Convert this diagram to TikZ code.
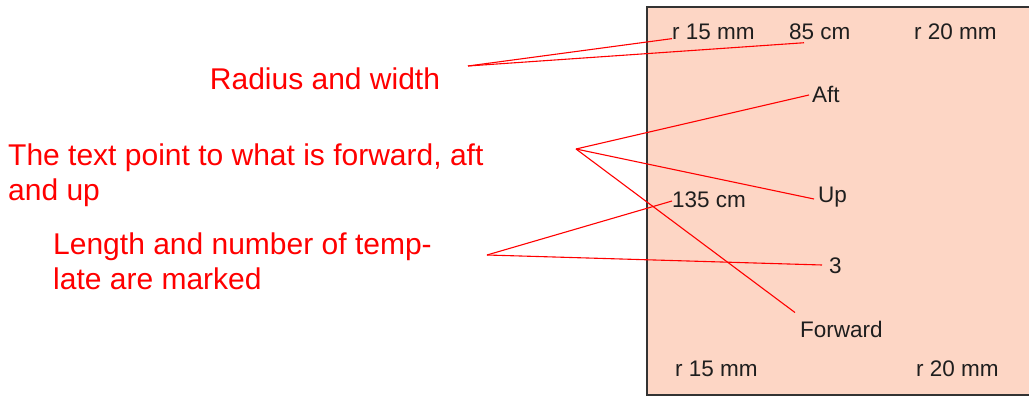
\documentclass[tikz,border=0pt]{standalone}
\usepackage{fontspec}
\setmainfont{Liberation Sans}
\usetikzlibrary{calc}
\definecolor{peach}{HTML}{FDD6C5}
\definecolor{ink}{HTML}{1E1E1E}
\definecolor{frame}{HTML}{333333}
\tikzset{
  boxlabel/.style={inner sep=0pt, anchor=west, text=ink, font=\fontsize{22.5}{26}\selectfont},
  note/.style={inner sep=0pt, text=red, font=\fontsize{30}{34.5}\selectfont, align=left},
  leader/.style={draw=red, line width=1.1pt}
}
\begin{document}
\begin{tikzpicture}[x=1pt,y=-1pt]
\useasboundingbox (0,0) rectangle (1029,398);
% template box
\fill[peach] (647,7) rectangle (1029,395);
\draw[frame, line width=1.8pt] (1029,7) -- (647,7) -- (647,395) -- (1029,395);
% labels in the box
\node[boxlabel] (r15t) at (672,32) {r 15 mm};
\node[boxlabel] (c85) at (789,32) {85 cm};
\node[boxlabel] (r20t) at (914,32) {r 20 mm};
\node[boxlabel] (aft) at (812,94) {Aft};
\node[boxlabel] (up) at (818,197) {Up};
\node[boxlabel] (c135) at (672,200) {135 cm};
\node[boxlabel] (n3) at (829,266) {3};
\node[boxlabel] (fwd) at (800,329) {Forward};
\node[boxlabel] (r15b) at (675,369) {r 15 mm};
\node[boxlabel] (r20b) at (916,369) {r 20 mm};
% explanatory notes
\node[note, anchor=center] (radius) at (325,79) {Radius and width};
\node[note, anchor=north west] (textpt) at (8,144) {The text point to what is forward, aft\\and up};
\node[note, anchor=north west] (length) at (53,233) {Length and number of temp-\\late are marked};
% leader hubs
\coordinate (hubR) at (468,66);
\coordinate (hubT) at (576,149);
\coordinate (hubL) at (487,255);
% leaders
\draw[leader] (hubR) -- ($(r15t.base west)+(0,-1)$);
\draw[leader] (hubR) -- ($(c85.base west)+(15,3)$);
\draw[leader] (hubT) -- ($(aft.west)+(-3,1)$);
\draw[leader] (hubT) -- ($(up.west)+(-4,2)$);
\draw[leader] (hubT) -- ($(fwd.north west)+(-5,-8)$);
\draw[leader] (hubL) -- ($(c135.west)+(0,1)$);
\draw[leader] (hubL) -- ($(n3.west)+(-7,-1)$);
\end{tikzpicture}
\end{document}
